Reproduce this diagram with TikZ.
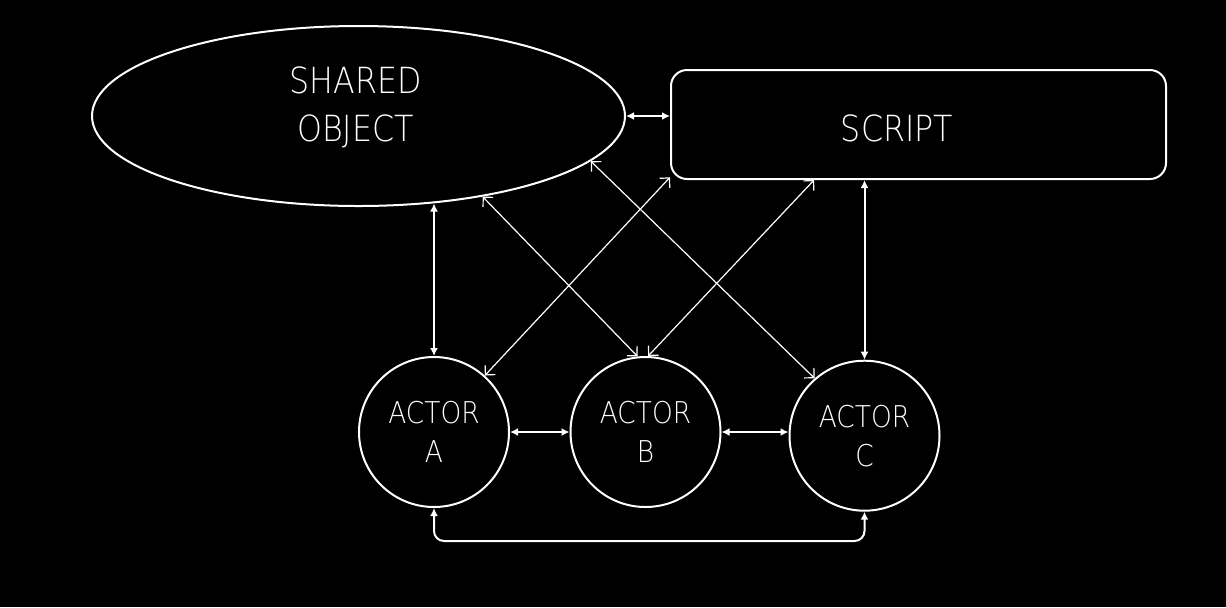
\documentclass[tikz,border=0pt]{standalone}
\usepackage{fontspec}
\setmainfont{DejaVu Sans ExtraLight}[FakeStretch=0.88]
\usetikzlibrary{positioning,shapes.geometric,arrows.meta}

\begin{document}
\begin{tikzpicture}[x=0.5pt,y=-0.5pt,
		obj/.style={ellipse,draw=white,line width=1pt,minimum width=266.5pt,minimum height=90pt,inner sep=0pt},
		scr/.style={rectangle,rounded corners=8pt,draw=white,line width=1pt,minimum width=247.5pt,minimum height=54.5pt},
		actor/.style={circle,draw=white,line width=1pt,minimum size=75pt,inner sep=0pt,text=white,align=center,font=\fontsize{15}{19.5}\selectfont},
		big/.style={text=white,inner sep=0pt,font=\fontsize{18}{24}\selectfont},
		link/.style={white,line width=1pt,{Latex[length=4pt,width=4pt]}-{Latex[length=4pt,width=4pt]}},
		cross/.style={white,line width=0.6pt,{Straight Barb[length=3.5pt,width=7pt]}-{Straight Barb[length=3.5pt,width=7pt]}}]
	\fill[black] (0,0) rectangle (1226,607);
	\useasboundingbox (0,0) rectangle (1226,607);

	\node[obj]						(obj)		at (358.5,116)	{};
	\node[big,anchor=base]			(shared)	at (355.5,93)	{SHARED};
	\node[big,anchor=base]			(object)	at (355.5,141.5)	{OBJECT};
	\node[scr]						(script)	at (918.5,124.5)	{};
	\node[big,anchor=base]			(scrlbl)	at (897,141.5)	{SCRIPT};

	\node[actor]									(a)	at (434,432)	{ACTOR\\A};
	\node[actor,right=29.75pt of a]					(b)	{ACTOR\\B};
	\node[actor,right=33.5pt of b,yshift=-1.85pt]	(c)	{ACTOR\\C};
	\coordinate (bot) at (0,541);

	\draw[link] (obj.east) -- (script.west |- obj.east);
	\draw[link] (a.north |- obj.-50) -- (a.north);
	\draw[link] (c.north |- script.south) -- (c.north);
	\draw[link] (a.east) -- (b.west);
	\draw[link] (b.east) -- (c.west |- b.east);
	\draw[link,rounded corners=5pt] (a.south) -- (a.south |- bot) -- (c.south |- bot) -- (c.south);

	\draw[cross] (obj.-33) -- (b.96);
	\draw[cross] (a.48) -- (script.-168);
	\draw[cross] (obj.-11) -- (c.131);
	\draw[cross] (b.88) -- (script.-152);
\end{tikzpicture}
\end{document}
